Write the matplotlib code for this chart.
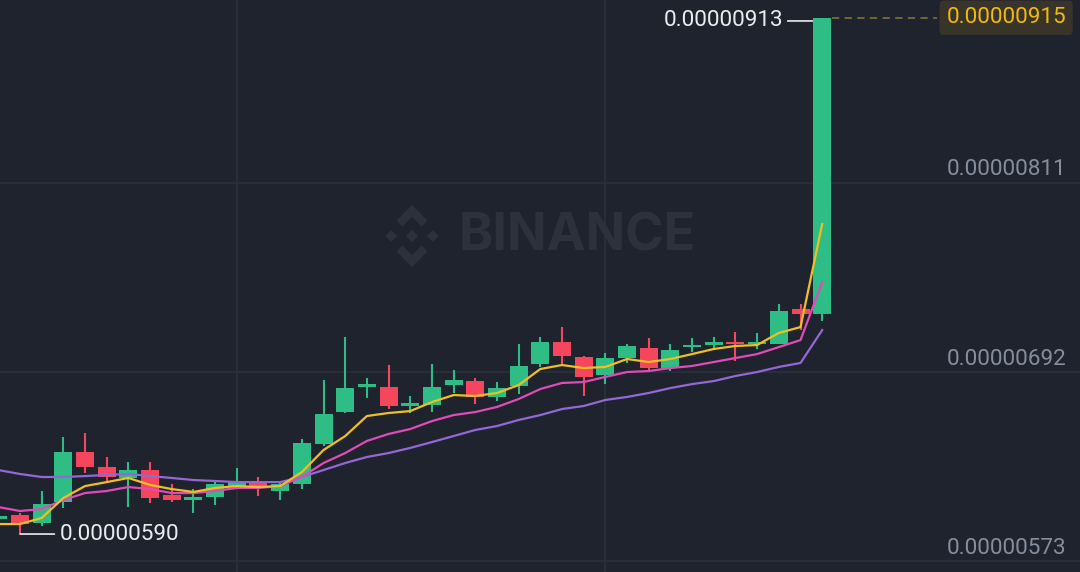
import numpy as np
import matplotlib.pyplot as plt
from matplotlib.patches import Polygon

# prices in units of 1e-8
UNIT = 1e-8

opens = [599.5, 602.0, 596.9, 610.2, 641.6, 632.2, 625.3, 630.3, 614.6, 611.4,
         613.3, 620.2, 622.7, 617.1, 621.5, 646.7, 666.8, 682.6, 682.6, 670.6,
         671.2, 683.8, 686.3, 676.3, 683.2, 697.0, 710.9, 701.4, 690.1, 700.8,
         707.1, 694.5, 707.7, 709.0, 710.9, 709.6, 709.6, 731.7, 728.5]
highs = [602.6, 603.2, 617.1, 651.1, 653.6, 638.5, 635.3, 635.3, 621.5, 618.3,
         622.7, 631.6, 625.9, 622.7, 649.8, 687.0, 714.0, 688.2, 696.4, 676.9,
         697.0, 693.3, 688.2, 685.7, 709.6, 714.0, 720.3, 702.1, 704.0, 709.6,
         713.4, 709.6, 713.4, 714.0, 717.2, 716.6, 734.8, 734.8, 913.0]
lows = [598.8, 590.0, 595.0, 606.4, 628.4, 622.7, 607.0, 609.5, 610.2, 603.2,
        608.3, 619.0, 613.9, 611.4, 618.3, 645.4, 666.2, 675.6, 668.7, 666.2,
        666.8, 678.8, 671.9, 673.7, 678.2, 695.2, 696.4, 676.9, 684.4, 697.7,
        693.3, 692.6, 704.6, 706.5, 698.9, 706.5, 709.6, 718.4, 724.1]
closes = [601.3, 596.3, 608.9, 641.6, 632.2, 625.9, 630.3, 612.7, 611.4, 613.3,
          621.5, 622.7, 619.0, 621.5, 647.3, 665.6, 681.9, 684.4, 670.6, 672.5,
          682.6, 687.0, 676.3, 681.9, 695.8, 710.9, 702.1, 688.9, 700.8, 708.4,
          694.5, 705.9, 709.0, 710.9, 709.6, 710.9, 730.4, 728.5, 915.0]

ma_yellow = [596.3, 596.3, 600.1, 612.7, 620.2, 622.7, 625.3, 620.9, 618.3, 616.5,
             619.0, 620.2, 619.6, 620.2, 629.0, 642.9, 651.7, 664.3, 666.2, 667.4,
             673.1, 677.5, 676.9, 678.8, 683.8, 693.9, 696.4, 694.5, 695.2, 700.2,
             698.3, 700.2, 703.3, 706.5, 708.4, 709.0, 716.6, 720.3, 785.2]
ma_pink = [607.0, 604.5, 605.7, 611.4, 615.8, 617.1, 619.6, 618.3, 615.8, 615.8,
           617.1, 619.0, 619.0, 620.2, 625.9, 634.7, 641.0, 648.6, 653.0, 656.1,
           661.1, 664.9, 666.8, 670.0, 675.0, 681.3, 685.1, 685.7, 688.9, 692.0,
           692.6, 694.5, 695.8, 698.3, 700.8, 703.3, 707.7, 712.1, 748.7]
ma_purple = [630.3, 627.8, 625.9, 625.9, 626.5, 627.2, 627.8, 626.5, 625.3, 624.0,
             623.4, 622.7, 622.7, 622.7, 625.9, 630.3, 634.7, 638.5, 641.0, 644.2,
             647.9, 651.7, 655.5, 658.0, 661.8, 664.9, 668.7, 670.6, 674.4, 676.3,
             678.8, 681.9, 684.4, 686.3, 689.5, 692.0, 695.2, 697.7, 718.4]

ytick_vals = [573, 692, 811]
last_price = 915.0

BG = '#1f232e'
UP = '#2ebd85'
DOWN = '#f6465d'
GRID = '#2b303a'
LABEL = '#848e9c'
FS = 16.2

plt.rcParams['font.family'] = ['Roboto', 'DejaVu Sans']

fig = plt.figure(figsize=(10.8, 5.72), dpi=100, facecolor=BG)
ax = fig.add_axes([0, 0, 1, 1], facecolor=BG)

o = np.array(opens) * UNIT
h = np.array(highs) * UNIT
l = np.array(lows) * UNIT
c = np.array(closes) * UNIT
x = np.arange(len(o))

# grid
for v in ytick_vals:
    ax.axhline(v * UNIT, color=GRID, lw=1.2, zorder=0)
for gx in [11, 28]:
    ax.axvline(gx, color=GRID, lw=1.2, zorder=0)

# watermark on a pixel-space overlay
wm = fig.add_axes([0, 0, 1, 1], facecolor='none')
wm.set_xlim(0, 1080)
wm.set_ylim(572, 0)
wm.axis('off')
wm.set_zorder(0)
ax.set_zorder(1)
ax.patch.set_alpha(0)
WM = '#2c313c'
cx, cy, s = 412, 236, 31
def dia(px, py, r):
    return [(px, py - r), (px + r, py), (px, py + r), (px - r, py)]
for pts in [dia(cx, cy, 0.19 * s), dia(cx - 0.67 * s, cy, 0.19 * s), dia(cx + 0.67 * s, cy, 0.19 * s)]:
    wm.add_patch(Polygon(pts, closed=True, color=WM, lw=0))
for sgn in (-1, 1):
    chev = [(0, 1.0), (0.5, 0.5), (0.31, 0.31), (0, 0.62), (-0.31, 0.31), (-0.5, 0.5)]
    pts = [(cx + px * s, cy - sgn * py * s) for px, py in chev]
    wm.add_patch(Polygon(pts, closed=True, color=WM, lw=0))
wm.text(577, 237, 'BINANCE', color=WM, fontsize=37.5, fontweight='bold',
        ha='center', va='center', family=['Inter', 'DejaVu Sans'])

# candles
cols = [UP if cc >= oo else DOWN for oo, cc in zip(o, c)]
ax.vlines(x, l, h, colors=cols, lw=1.5, zorder=3)
bottoms = np.minimum(o, c)
heights = np.maximum(np.abs(c - o), 1.6 * UNIT)
ax.bar(x, heights, bottom=bottoms, width=0.83, color=cols, lw=0, zorder=3)

# moving averages
ax.plot(x, np.array(ma_purple) * UNIT, color='#9467d6', lw=1.6, zorder=4)
ax.plot(x, np.array(ma_pink) * UNIT, color='#e04bb8', lw=1.6, zorder=4)
ax.plot(x, np.array(ma_yellow) * UNIT, color='#f0c020', lw=1.6, zorder=4)

ax.set_xlim(0.078, 49.89)
ax.set_ylim(566.1 * UNIT, 926.2 * UNIT)
ax.axis('off')

# price scale labels
for v in ytick_vals:
    ax.annotate(f'{v * UNIT:.8f}', xy=(1, v * UNIT), xycoords=('axes fraction', 'data'),
                xytext=(-14, 13), textcoords='offset pixels', ha='right', va='center',
                color=LABEL, fontsize=FS, zorder=6)

# high / low markers
hi = int(np.argmax(h))
lo = int(np.argmin(l))
ax.annotate(f'{h[hi]:.8f}', xy=(hi - 0.45, h[hi]), xytext=(-29, 0), textcoords='offset pixels',
            ha='right', va='center', color='#eaecef', fontsize=FS, zorder=6,
            arrowprops=dict(arrowstyle='-', color='#eaecef', lw=1.2, shrinkA=1, shrinkB=0))
ax.annotate(f'{l[lo]:.8f}', xy=(lo, l[lo]), xytext=(40, 0), textcoords='offset pixels',
            ha='left', va='center', color='#eaecef', fontsize=FS, zorder=6,
            arrowprops=dict(arrowstyle='-', color='#eaecef', lw=1.2, shrinkA=2, shrinkB=0))

# last price line and tag
ax.hlines(last_price * UNIT, len(x) - 1 + 0.45, 43.3, colors='#7d6d32', lw=1.3,
          linestyles=(0, (4, 3)), zorder=2)
ax.annotate(f'{last_price * UNIT:.8f}', xy=(1, last_price * UNIT), xycoords=('axes fraction', 'data'),
            xytext=(-14, 0), textcoords='offset pixels', ha='right', va='center',
            color='#f0b90b', fontsize=FS, zorder=6,
            bbox=dict(boxstyle='round,pad=0.3,rounding_size=0.2', fc='#38342a', ec='none'))

fig.savefig('out.png', dpi=100, facecolor=BG)
